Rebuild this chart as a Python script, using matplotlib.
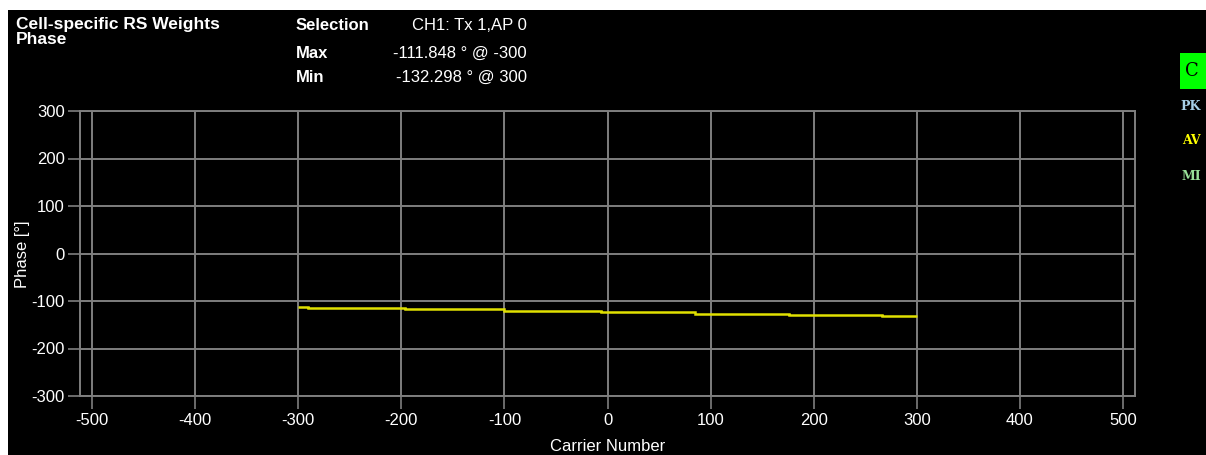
import matplotlib
matplotlib.use("Agg")
import matplotlib.pyplot as plt
from matplotlib.patches import Rectangle

# ---- data ----
step_edges = [-300, -290, -196, -100, -6, 85, 176, 266, 300]
phase_levels = [-111.848, -114.9, -117.8, -120.7, -123.6, -126.5, -129.4, -132.298]
x_ticks = [-500, -400, -300, -200, -100, 0, 100, 200, 300, 400, 500]
y_ticks = [-300, -200, -100, 0, 100, 200, 300]
title_lines = "Cell-specific RS Weights\nPhase"
info_keys = ["Selection", "Max", "Min"]
info_vals = ["CH1: Tx 1,AP 0", "-111.848 ° @ -300", "-132.298 ° @ 300"]
legend_tags = ["PK", "AV", "MI"]

W, H = 1206, 455
fig = plt.figure(figsize=(W / 100, H / 100), dpi=100, facecolor="white")
fam = ["Liberation Sans Narrow", "Liberation Sans", "DejaVu Sans"]

# black panel (white strip at left and top)
fig.patches.append(Rectangle((8 / W, 0), 1, 1 - 10 / H, transform=fig.transFigure,
                             facecolor="black", edgecolor="none", zorder=-10))

ax = fig.add_axes([80 / W, 1 - 396 / H, (1135 - 80) / W, (396 - 111) / H])
ax.set_zorder(2)
ax.set_facecolor("black")
grid_c = "#7f7f7f"
ax.set_xlim(-511.6, 511.6)
ax.set_ylim(-300, 300)
ax.set_xticks(x_ticks)
ax.set_yticks(y_ticks)
ax.set_xticklabels([str(v) for v in x_ticks])
ax.set_yticklabels([str(v) for v in y_ticks])
ax.grid(True, color=grid_c, linewidth=1.4)
ax.set_axisbelow(True)
for s in ax.spines.values():
    s.set_color(grid_c)
    s.set_linewidth(1.4)
ax.tick_params(colors=grid_c, length=9, width=1.2, labelcolor="white",
               labelsize=12, pad=2)
ax.tick_params(axis="x", pad=3)
for lbl in ax.get_xticklabels() + ax.get_yticklabels():
    lbl.set_family(fam)

ax.stairs(phase_levels, step_edges, baseline=None, color="#e0e000", linewidth=1.8, zorder=3)

ax.set_xlabel("Carrier Number", color="white", fontsize=12, family=fam, labelpad=8)
fig.text(22 / W, 1 - 254 / H, "Phase [°]", color="white", fontsize=12, family=fam,
         rotation=90, ha="center", va="center")

# header texts
fig.text(16 / W, 1 - 17 / H, title_lines, color="white", fontsize=12.5, weight="bold",
         family=fam, ha="left", va="top", linespacing=1.0)
ys = [25, 53, 77]
for k, v, y in zip(info_keys, info_vals, ys):
    fig.text(296 / W, 1 - y / H, k, color="white", fontsize=12, weight="bold",
             family=fam, ha="left", va="center")
    fig.text(527 / W, 1 - y / H, v, color="white", fontsize=12,
             family=fam, ha="right", va="center")

# right side legend
fig.patches.append(Rectangle((1180 / W, 1 - 89 / H), 26 / W, 36 / H, transform=fig.transFigure,
                             facecolor="#00ff00", edgecolor="none", zorder=1))
fig.text(1192 / W, 1 - 71 / H, "C", color="black", fontsize=13, family="DejaVu Serif",
         ha="center", va="center")
tag_colors = ["#a8d0e8", "#ffff00", "#98e098"]
tag_y = [107, 141, 177]
for t, c, y in zip(legend_tags, tag_colors, tag_y):
    fig.text(1191 / W, 1 - y / H, t, color=c, fontsize=9, weight="bold",
             family="DejaVu Serif", ha="center", va="center")

fig.savefig("out.png", dpi=100, facecolor=fig.get_facecolor())
